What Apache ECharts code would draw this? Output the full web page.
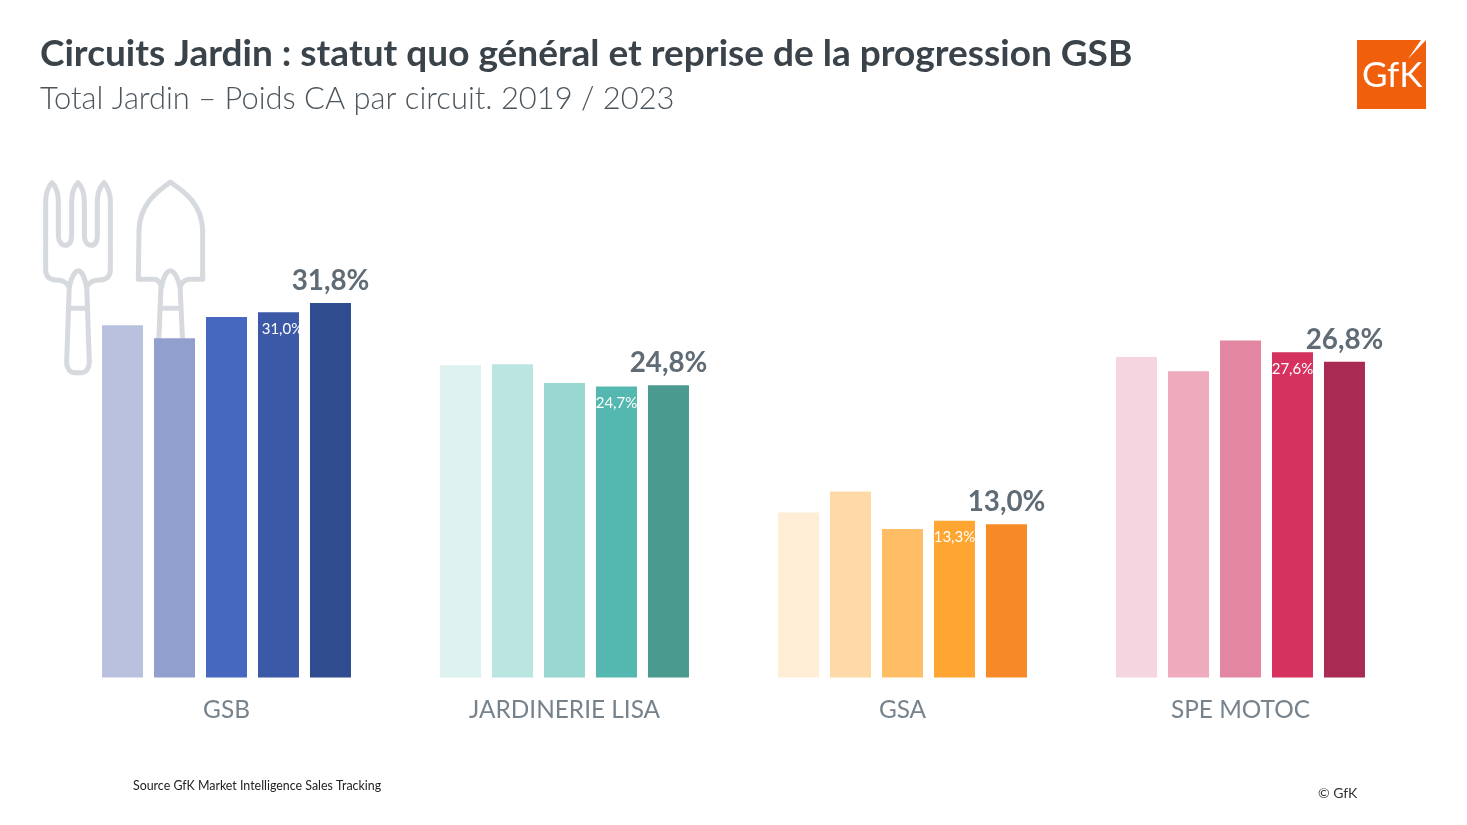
<!DOCTYPE html>
<html><head><meta charset="utf-8">
<style>html,body{margin:0;padding:0;background:#fff}#c{width:1467px;height:825px}</style>
<script src="https://cdn.jsdelivr.net/npm/echarts@6/dist/echarts.min.js"></script>
</head><body><div id="c"></div>
<script>
const categories = ['GSB','JARDINERIE LISA','GSA','SPE MOTOC'];
const years = ['2019','2020','2021','2022','2023'];
const v2019 = [29.9,26.5,14.0,27.2];
const v2020 = [28.8,26.6,15.8,26.0];
const v2021 = [30.6,25.0,12.6,28.6];
const v2022 = [31.0,24.7,13.3,27.6];
const v2023 = [31.8,24.8,13.0,26.8];
const colGSB = ['#b9c1df','#919fcf','#4668bf','#3b59a6','#2f4c8e'];
const colLISA = ['#ddf1ee','#bbe5e0','#9ad7d1','#55b8b0','#4a9a90'];
const colGSA = ['#ffedd6','#fedaa8','#ffbe66','#ffa531','#f78a27'];
const colSPE = ['#f5d5e0','#eeabbd','#e386a1','#d5325f','#a92a52'];
const palette = [colGSB,colLISA,colGSA,colSPE];
const all = [v2019,v2020,v2021,v2022,v2023];
const fmt = p => p.value.toFixed(1).replace('.',',') + '%';
const FONT = 'Lato';

const series = all.map((vals,i)=>({
  name: years[i], type:'bar', barWidth:41, barGap:'26.8%',
  data: vals.map((v,c)=>{
    const d = {value:v,itemStyle:{color:palette[c][i]}};
    if (i===3 && c===0) d.label = {offset:[4,0]};
    return d;
  }),
  label: i===4 ? {show:true,position:'top',distance:8,formatter:fmt,fontFamily:FONT,fontWeight:700,fontSize:27.8,color:'#5f6b75'}
       : i===3 ? {show:true,position:'insideTop',distance:9,formatter:fmt,fontFamily:FONT,fontSize:15,color:'#ffffff'}
       : {show:false},
  silent:true, animation:false
}));

const fork = 'M66 38C55 50 47 70 47 95L47 300C47 320 60 330 80 330C100 330 112 340 118 352C122 325 135 302 145 302C155 302 165 325 170 352C175 340 188 330 208 330C228 330 241 320 241 300L241 95C241 70 232 50 222 38C210 50 202 70 202 95L202 195C202 215 195 226 183 226C172 226 163 215 163 195L163 95C163 70 156 50 144 38C132 50 125 70 125 95L125 195C125 215 118 226 105 226C95 226 85 215 85 195L85 95C85 70 78 50 66 38ZM118 345L110 575C110 595 120 608 135 608L155 608C168 608 178 595 178 575L170 345M115 415L172 415';
const trowel = 'M421 36C400 55 330 90 327 180L325 328L370 328C385 328 392 340 395 352C398 325 410 302 421 302C432 302 445 325 450 352C455 338 465 328 480 328L518 328L518 180C515 90 445 55 421 36ZM393 345L386 520M450 345L458 520M393 415L450 415';
const iconStyle = {fill:'none',stroke:'#d6d9dd',lineWidth:15,lineJoin:'round',lineCap:'round'};
echarts.graphic.registerShape('forkIcon', echarts.graphic.extendPath(fork));
echarts.graphic.registerShape('trowelIcon', echarts.graphic.extendPath(trowel));

const chart = echarts.init(document.getElementById('c'),null,{renderer:'canvas'});
chart.setOption({
  animation:false, backgroundColor:'#fff',
  grid:{left:57.5,width:1352,top:206.3,height:471.2},
  xAxis:{type:'category',data:categories,axisLine:{show:false},axisTick:{show:false},
    axisLabel:{margin:21,fontFamily:FONT,fontSize:24.4,color:'#76828c'}},
  yAxis:{type:'value',min:0,max:40,show:false,splitLine:{show:false}},
  series,
  graphic:[
    {type:'forkIcon',z:-1,x:30,y:170,scaleX:1/3,scaleY:1/3,style:iconStyle},
    {type:'trowelIcon',z:-1,x:30,y:170,scaleX:1/3,scaleY:1/3,style:iconStyle},
    {type:'text',x:40,y:36,style:{text:'Circuits Jardin : statut quo général et reprise de la progression GSB',font:'700 37px Lato',fill:'#3a4349'}},
    {type:'text',x:40,y:84,style:{text:'Total Jardin – Poids CA par circuit. 2019 / 2023',font:'300 30.9px Lato',fill:'#4c555c'}},
    {type:'rect',shape:{x:1357,y:40,width:69,height:69},style:{fill:'#f05f0b'}},
    {type:'polygon',shape:{points:[[1426,40],[1421,40],[1408,59]]},style:{fill:'#fff'}},
    {type:'text',x:1362,y:58,style:{text:'GfK',font:'400 35px Lato',fill:'#fff'}},
    {type:'text',x:133,y:780,style:{text:'Source GfK Market Intelligence Sales Tracking',font:'12.4px Lato',fill:'#222'}},
    {type:'text',x:1318,y:786,style:{text:'© GfK',font:'14px Lato',fill:'#333'}}
  ]
});
</script></body></html>
